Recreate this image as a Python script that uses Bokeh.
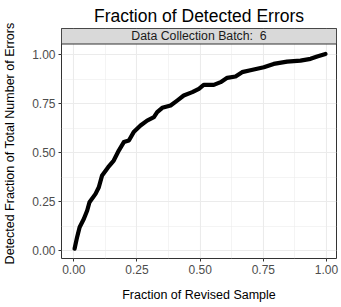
from bokeh.plotting import figure
from bokeh.models import Range1d, FixedTicker
from bokeh.core.properties import value
from bokeh.embed import file_html
from bokeh.resources import INLINE

# --- data ---
frac_sample = [0.003, 0.013, 0.023, 0.040, 0.053, 0.062, 0.086, 0.099, 0.112, 0.136,
               0.158, 0.178, 0.198, 0.218, 0.237, 0.264, 0.290, 0.317, 0.330, 0.350,
               0.383, 0.409, 0.435, 0.469, 0.495, 0.514, 0.554, 0.581, 0.607, 0.640,
               0.666, 0.699, 0.752, 0.791, 0.844, 0.897, 0.937, 0.963, 0.996]
frac_errors = [0.009, 0.068, 0.119, 0.162, 0.204, 0.246, 0.289, 0.323, 0.383, 0.425,
               0.459, 0.510, 0.553, 0.561, 0.604, 0.638, 0.663, 0.680, 0.706, 0.728,
               0.740, 0.765, 0.791, 0.808, 0.825, 0.845, 0.845, 0.859, 0.881, 0.888,
               0.910, 0.920, 0.935, 0.952, 0.964, 0.969, 0.978, 0.990, 1.003]
major_ticks = [0.0, 0.25, 0.5, 0.75, 1.0]
minor_ticks = [0.125, 0.375, 0.625, 0.875]
tick_labels = {0.0: "0.00", 0.25: "0.25", 0.5: "0.50", 0.75: "0.75", 1.0: "1.00"}
title_text = "Fraction of Detected Errors"
strip_text = "Data Collection Batch:\u00a0 6"
x_label = "Fraction of Revised Sample"
y_label = "Detected Fraction of Total Number of Errors"

FONT = "Liberation Sans"
X0, X1 = -0.0487, 1.0396
Y0, Y_PANEL_TOP, Y1 = -0.0408, 1.0536, 1.1327

p = figure(width=341, height=307, output_backend="svg", toolbar_location=None,
           x_range=Range1d(X0, X1), y_range=Range1d(Y0, Y1),
           min_border_left=61, min_border_right=5, min_border_top=28, min_border_bottom=49)

p.title.text = title_text
p.title.align = "center"
p.title.text_font = FONT
p.title.text_font_size = "17.5px"
p.title.text_font_style = "normal"
p.title.text_color = "black"
p.title.standoff = 6

p.outline_line_color = "#333333"
p.outline_line_width = 1
p.background_fill_color = "white"
p.border_fill_color = "white"

for ax, lab in ((p.xaxis[0], x_label), (p.yaxis[0], y_label)):
    ax.ticker = FixedTicker(ticks=major_ticks, minor_ticks=minor_ticks)
    ax.major_label_overrides = tick_labels
    ax.axis_line_color = None
    ax.major_tick_line_color = "#333333"
    ax.major_tick_in = 0
    ax.major_tick_out = 3
    ax.minor_tick_line_color = None
    ax.major_label_text_font = FONT
    ax.major_label_text_font_size = "12px"
    ax.major_label_text_color = "#4D4D4D"
    ax.major_label_standoff = 2
    ax.axis_label = lab
    ax.axis_label_text_font = FONT
    ax.axis_label_text_font_size = "12.5px"
    ax.axis_label_text_font_style = "normal"
    ax.axis_label_text_color = "black"

p.xaxis.axis_label_standoff = 11
p.yaxis.axis_label_standoff = 12

for g in (p.xgrid[0], p.ygrid[0]):
    g.grid_line_color = "#EBEBEB"
    g.grid_line_width = 1.1
    g.minor_grid_line_color = "#EBEBEB"
    g.minor_grid_line_width = 0.55

p.line(frac_sample, frac_errors, line_color="black", line_width=4.2,
       line_join="round", line_cap="round")

# facet strip
p.quad(left=[X0], right=[X1], bottom=[Y_PANEL_TOP], top=[Y1],
       fill_color="#D9D9D9", line_color="#333333", line_width=1)
p.text(x=[(X0 + X1) / 2], y=[(Y_PANEL_TOP + Y1) / 2], text=[strip_text],
       text_font=value(FONT), text_font_size="12.3px", text_color="#1A1A1A",
       text_align="center", text_baseline="middle")

open("out.html", "w").write(file_html(p, INLINE))
